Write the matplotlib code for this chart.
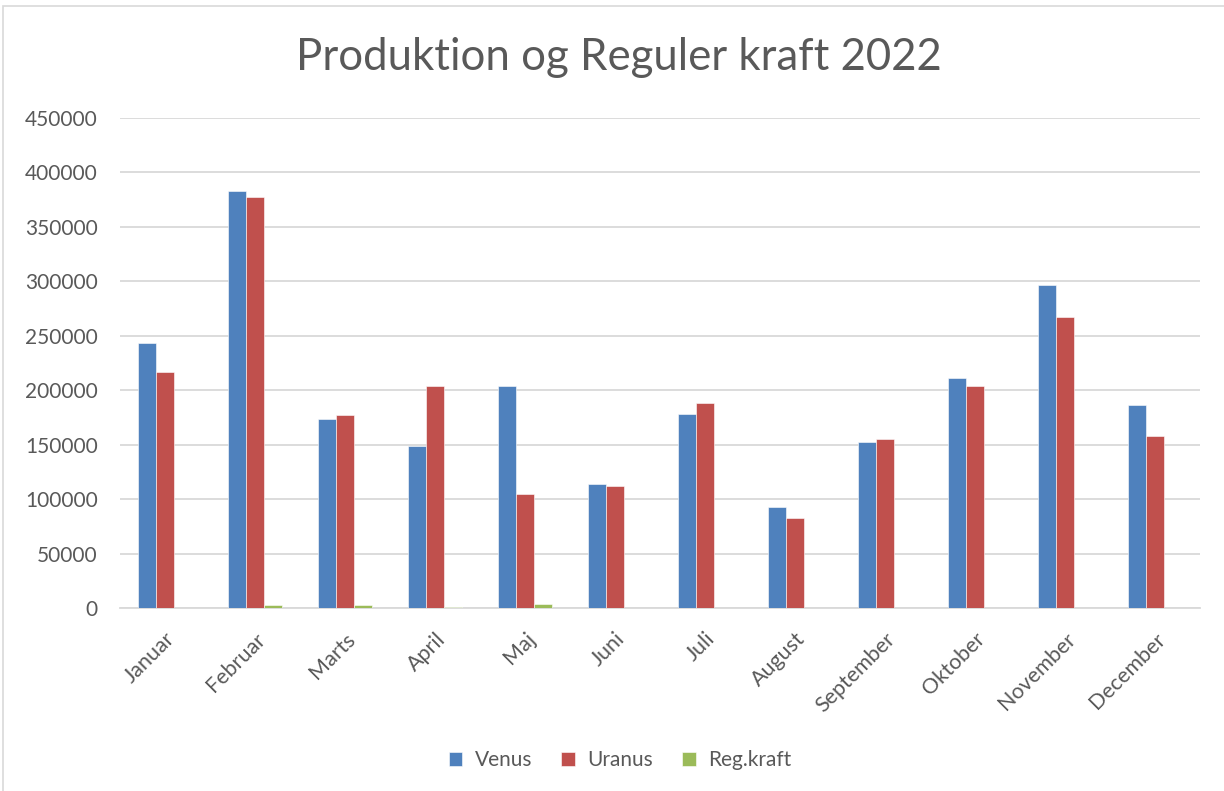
import matplotlib
matplotlib.use("Agg")
import matplotlib.pyplot as plt
import numpy as np
from matplotlib.patches import Rectangle

months = ["Januar", "Februar", "Marts", "April", "Maj", "Juni", "Juli",
          "August", "September", "Oktober", "November", "December"]
venus = [243800, 383100, 174000, 148400, 204000, 114100, 178600,
         92600, 152500, 210800, 296300, 186600]
uranus = [216600, 377000, 177000, 204300, 104900, 112500, 188000,
          82800, 155000, 203700, 267200, 157700]
regkraft = [0, 2300, 2800, 900, 3400, 0, 0, 0, 0, 0, 0, 0]
series_names = ["Venus", "Uranus", "Reg.kraft"]
colors = ["#4F81BD", "#C0504D", "#9BBB59"]
yticks = [0, 50000, 100000, 150000, 200000, 250000, 300000, 350000, 400000, 450000]

plt.rcParams['font.family'] = ['Lato', 'DejaVu Sans']
txt = "#595959"

fig = plt.figure(figsize=(12.24, 7.91), dpi=100)
fig.patches.append(Rectangle((3/1224, -0.01), 1.02, (791-6)/791 + 0.01,
                             transform=fig.transFigure, fill=False,
                             edgecolor="#d9d9d9", linewidth=1.2))
ax = fig.add_axes([120/1224, 183/791, 1080/1224, 490/791])

x = np.arange(len(months))
w = 0.2
for i, (vals, c, name) in enumerate(zip([venus, uranus, regkraft], colors, series_names)):
    ax.bar(x + (i - 1) * w, vals, width=w, color=c, label=name,
           edgecolor="white", linewidth=0.4, zorder=3)

ax.set_xlim(-0.5, len(months) - 0.5)
ax.set_ylim(0, 450000)
ax.set_yticks(yticks)
ax.set_yticklabels([str(v) for v in yticks], fontsize=15, color=txt)
ax.set_xticks(x)
ax.set_xticklabels(months, rotation=45, ha="right", rotation_mode="anchor",
                   fontsize=15.5, color=txt)
ax.tick_params(axis="both", length=0)
ax.tick_params(axis="y", pad=16)
ax.tick_params(axis="x", pad=15)
ax.grid(axis="y", color="#d9d9d9", linewidth=1.3, zorder=0)
for s in ["top", "right", "left"]:
    ax.spines[s].set_visible(False)
ax.spines["bottom"].set_color("#d9d9d9")
ax.spines["bottom"].set_linewidth(1.3)

fig.text(619/1224, 1 - 58/791, "Produktion og Reguler kraft 2022",
         ha="center", va="center", fontsize=31.5, color=txt)

handles, labels = ax.get_legend_handles_labels()
leg = fig.legend(handles, labels, loc="center", bbox_to_anchor=(620/1224, 1 - 760/791),
                 ncol=3, frameon=False, fontsize=15, handlelength=0.65,
                 handleheight=0.65, handletextpad=0.6, columnspacing=1.4)
for t in leg.get_texts():
    t.set_color(txt)

fig.savefig("out.png", dpi=100)
